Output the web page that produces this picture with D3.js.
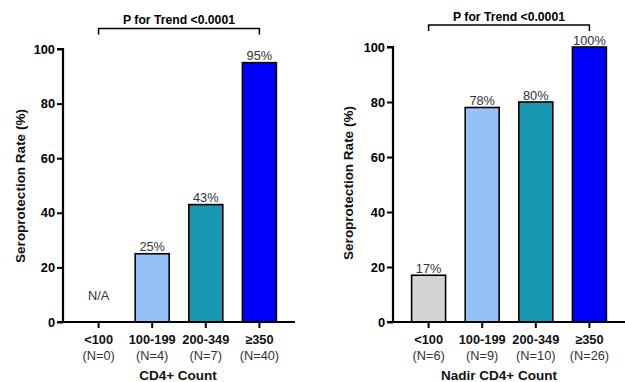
<!DOCTYPE html>
<html><head><meta charset="utf-8">
<script src="https://cdn.jsdelivr.net/npm/d3@7"></script>
<style>
html,body{margin:0;padding:0;background:#fff;}
svg{display:block;font-family:Arial,"Liberation Sans",Helvetica,sans-serif;}
</style></head>
<body><svg id="c" width="625" height="382"></svg>
<script>
// ---- data ----
const categories = ["<100", "100-199", "200-349", "\u2265350"];
const leftValues = [null, 25, 43, 95];
const leftN = ["(N=0)", "(N=4)", "(N=7)", "(N=40)"];
const leftLabels = ["N/A", "25%", "43%", "95%"];
const rightValues = [17, 78, 80, 100];
const rightN = ["(N=6)", "(N=9)", "(N=10)", "(N=26)"];
const rightLabels = ["17%", "78%", "80%", "100%"];
const yTicks = [0, 20, 40, 60, 80, 100];
const barColors = ["#d4d4d4", "#94c1f7", "#1897b2", "#0000ff"];
const trendText = "P for Trend <0.0001";
const yTitle = "Seroprotection Rate (%)";

const svg = d3.select("#c");

function panel(opts) {
  const g = svg.append("g");
  const x = d3.scaleBand().domain(categories)
    .range([opts.x0, opts.x1]).paddingInner(0.366).paddingOuter(0.347);
  const y = d3.scaleLinear().domain([0, 100]).range([opts.y0, opts.y100]);

  const data = categories.map((c, i) => ({c, v: opts.values[i], lab: opts.labels[i], n: opts.n[i], col: barColors[i]}));
  g.selectAll("rect.bar").data(data.filter(d => d.v != null)).join("rect")
    .attr("x", d => x(d.c)).attr("width", x.bandwidth())
    .attr("y", d => y(d.v)).attr("height", d => y(0) - y(d.v))
    .attr("fill", d => d.col).attr("stroke", "#000").attr("stroke-width", 1.6);

  g.selectAll("text.val").data(data).join("text")
    .attr("x", d => x(d.c) + x.bandwidth() / 2)
    .attr("y", d => d.v == null ? y(0) - 22 : y(d.v) - 2.5)
    .attr("text-anchor", "middle").attr("font-size", 12.8).attr("fill", "#333")
    .text(d => d.lab);

  const ya = g.append("g").attr("transform", `translate(${opts.x0},0)`)
    .call(d3.axisLeft(y).tickValues(yTicks).tickSize(6).tickPadding(2));
  ya.select(".domain").attr("stroke", "#000").attr("stroke-width", 2.2).attr("d", `M-6,${y(100)}H0V${y(0)}`);
  ya.selectAll(".tick line").attr("stroke", "#000").attr("stroke-width", 2);
  ya.selectAll(".tick text").attr("font-size", 12.8).attr("font-weight", "bold").attr("fill", "#000")
    .attr("font-family", "Arial,'Liberation Sans',sans-serif");

  const xa = g.append("g").attr("transform", `translate(0,${y(0)})`)
    .call(d3.axisBottom(x).tickSize(6).tickFormat(""));
  xa.select(".domain").attr("stroke", "#000").attr("stroke-width", 2.2).attr("d", `M${opts.x0 - 6},0H${opts.x1}`);
  xa.selectAll(".tick line").attr("stroke", "#000").attr("stroke-width", 2);

  g.selectAll("text.cat").data(data).join("text")
    .attr("x", d => x(d.c) + x.bandwidth() / 2).attr("y", y(0) + 22)
    .attr("text-anchor", "middle").attr("font-size", 12.8).attr("font-weight", "bold").attr("fill", "#111")
    .text(d => d.c);
  g.selectAll("text.nn").data(data).join("text")
    .attr("x", d => x(d.c) + x.bandwidth() / 2).attr("y", y(0) + 38)
    .attr("text-anchor", "middle").attr("font-size", 12.8).attr("fill", "#333")
    .text(d => d.n);

  g.append("text").attr("x", (opts.x0 + opts.x1) / 2 + opts.xtOff).attr("y", y(0) + 58)
    .attr("text-anchor", "middle").attr("font-size", 13.5).attr("font-weight", "bold").attr("fill", "#111")
    .text(opts.xTitle);

  g.append("text").attr("transform", `translate(${opts.ytx},${opts.yty}) rotate(-90)`)
    .attr("text-anchor", "middle").attr("font-size", 13.5).attr("font-weight", "bold").attr("fill", "#111")
    .text(yTitle);

  const bx0 = x(categories[0]) + x.bandwidth() / 2;
  const bx1 = x(categories[3]) + x.bandwidth() / 2;
  g.append("path").attr("d", `M${bx0},${opts.brY + 6}V${opts.brY}H${bx1}V${opts.brY + 6}`)
    .attr("fill", "none").attr("stroke", "#000").attr("stroke-width", 1.5);
  g.append("text").attr("x", (bx0 + bx1) / 2).attr("y", opts.brY - 4.5)
    .attr("text-anchor", "middle").attr("font-size", 12.2).attr("font-weight", "bold").attr("fill", "#000")
    .text(trendText);
}

panel({x0: 63, x1: 295, y0: 322, y100: 49, values: leftValues, labels: leftLabels, n: leftN,
  xTitle: "CD4+ Count", xtOff: -1, ytx: 25, yty: 186, brY: 28.5});
panel({x0: 393, x1: 625, y0: 322, y100: 47, values: rightValues, labels: rightLabels, n: rightN,
  xTitle: "Nadir CD4+ Count", xtOff: -10, ytx: 353, yty: 183, brY: 25});
</script></body></html>
